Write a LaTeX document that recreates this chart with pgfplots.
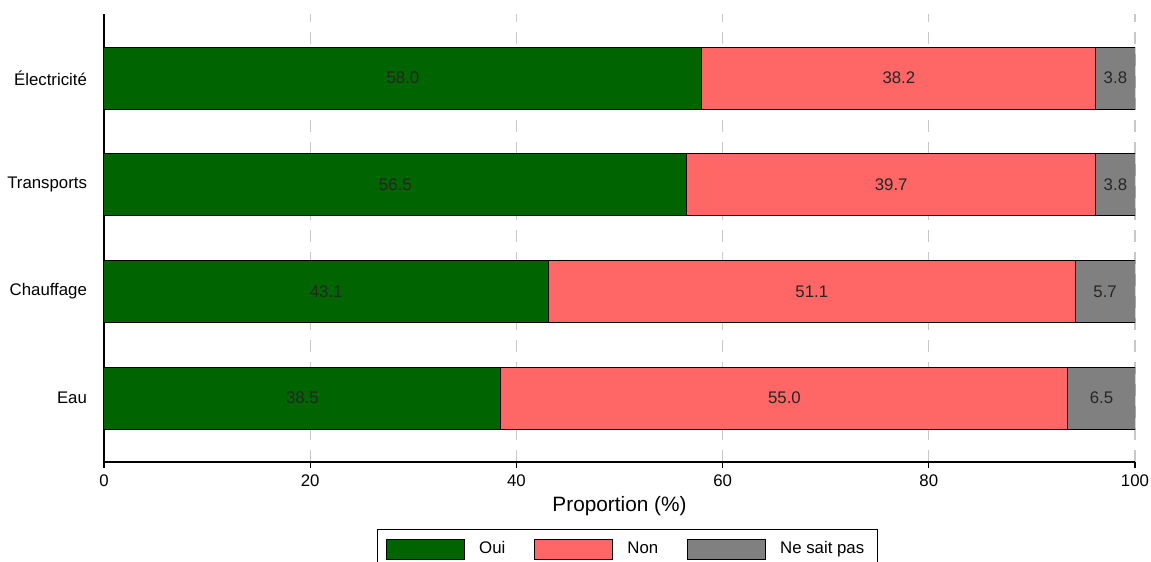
\documentclass[border=0pt]{standalone}
\usepackage{fontspec}
\setmainfont{Liberation Sans}
\usepackage{pgfplots}
\pgfplotsset{compat=1.18}
\definecolor{oui}{RGB}{0,100,0}
\definecolor{non}{RGB}{255,102,102}
\definecolor{nsp}{RGB}{128,128,128}
\definecolor{gridc}{RGB}{200,200,200}
\begin{document}
\begin{tikzpicture}
\pgfplotsset{common/.style={width=515.5pt,height=224pt,scale only axis,
  xmin=0,xmax=100,ymin=-0.6,ymax=3.6}}
\pgfplotsset{mybar/.style={draw=black, line width=0.5pt,
  legend image code/.code={\draw[##1, draw=black, line width=0.5pt] (0pt,-5pt) rectangle (39pt,5pt);}}}
\begin{axis}[common, xbar stacked, bar width=31pt,
  axis x line*=bottom, axis y line*=left,
  axis line style={black, line width=0.6pt},
  xtick={0,20,40,60,80,100},
  ytick={0,1,2,3},
  yticklabels={Eau,Chauffage,Transports,Électricité},
  xmajorgrids,
  grid style={gridc, dash pattern=on 6pt off 5pt, line width=0.6pt},
  xtick align=outside, major tick length=3pt,
  ytick style={draw=none},
  x tick style={black, line width=0.6pt},
  tick label style={font=\fontsize{8.4}{10}\selectfont},
  yticklabel style={xshift=-5pt},
  /pgf/number format/assume math mode=true,
  xlabel={Proportion (\%)},
  xlabel style={font=\fontsize{10.4}{12}\selectfont, yshift=2pt},
  legend columns=3,
  legend style={at={(0.5075,-0.1496)}, anchor=north, draw=black, line width=0.6pt,
    font=\fontsize{8.4}{10}\selectfont,
    /tikz/every even column/.append style={column sep=12.5pt},
    /tikz/every odd column/.append style={column sep=5pt},
    inner xsep=4.5pt, inner ysep=4pt},
]
\addplot[mybar, fill=oui] coordinates {(38.5,0) (43.1,1) (56.5,2) (58.0,3)};
\addlegendentry{Oui}
\addplot[mybar, fill=non] coordinates {(55.0,0) (51.1,1) (39.7,2) (38.2,3)};
\addlegendentry{Non}
\addplot[mybar, fill=nsp] coordinates {(6.5,0) (5.8,1) (3.8,2) (3.8,3)};
\addlegendentry{Ne sait pas}
\end{axis}
\begin{axis}[common, hide axis]
\addplot[draw=none, mark=none, nodes near coords, point meta=explicit symbolic,
  every node near coord/.append style={anchor=center, font=\fontsize{8.4}{10}\selectfont, text=black!85}]
  coordinates {
  (19.25,0) [38.5] (66.0,0) [55.0] (96.75,0) [6.5]
  (21.55,1) [43.1] (68.65,1) [51.1] (97.1,1) [5.7]
  (28.25,2) [56.5] (76.35,2) [39.7] (98.1,2) [3.8]
  (29.0,3) [58.0] (77.1,3) [38.2] (98.1,3) [3.8]
  };
\end{axis}
\pgfresetboundingbox
\useasboundingbox (-52pt,-50pt) rectangle (523.5pt,231pt);
\end{tikzpicture}
\end{document}
